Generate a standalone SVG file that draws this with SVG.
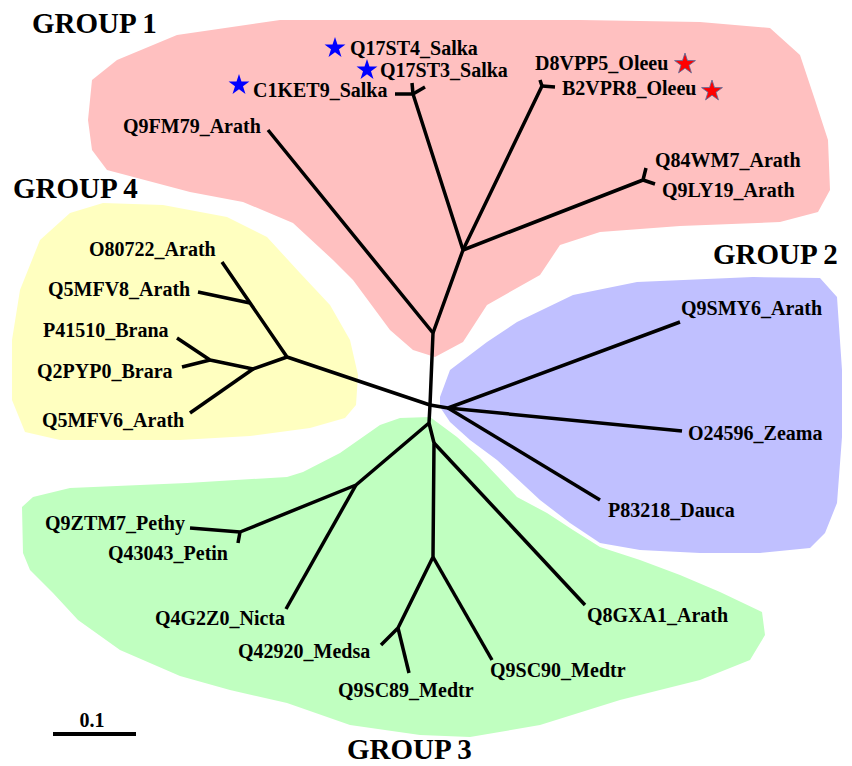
<svg xmlns="http://www.w3.org/2000/svg" width="852" height="766" viewBox="0 0 852 766">
<style>
.t{font-family:"Liberation Serif","Times New Roman",serif;font-weight:bold;font-size:20px;fill:#000}
.h{font-family:"Liberation Serif","Times New Roman",serif;font-weight:bold;font-size:29px;fill:#000}
.e{stroke:#000;stroke-width:3.5;fill:none;stroke-linecap:butt;stroke-linejoin:round}
.bs{fill:#0000FF}
.rs{fill:#FF0000;stroke:#5070A0;stroke-width:0.8}
</style>
<defs>
<path id="star" d="M0,-11 L2.47,-3.4 L10.46,-3.4 L4,1.3 L6.47,8.9 L0,4.2 L-6.47,8.9 L-4,1.3 L-10.46,-3.4 L-2.47,-3.4 Z"/>
</defs>
<rect width="852" height="766" fill="#fff"/>
<g id="regions" stroke-linejoin="round">
<polygon id="group1-area" fill="#FFC0C0" points="88,120 92,80 117,60 177,35 280,20 580,20 700,22 770,28 800,55 815,100 828,140 830,190 818,212 780,222 680,226 600,232 560,245 540,275 487,305 463,342 435,357 413,350 390,330 353,280 333,260 293,223 243,202 190,192 107,170 92,150"/>
<polygon id="group2-area" fill="#C0C0FF" points="440,397 450,370 487,342 517,322 573,295 637,282 753,277 820,278 837,297 842,370 842,437 837,503 825,533 810,548 760,553 700,553 640,550 600,543 570,523 540,500 497,460 470,440 450,422 440,407"/>
<polygon id="group3-area" fill="#C0FFC0" points="380,425 340,453 303,472 287,477 187,483 70,488 33,497 22,507 23,553 30,570 53,593 78,620 120,650 180,676 230,690 287,703 350,725 420,735 470,737 540,725 620,700 700,680 750,660 765,635 762,612 720,592 680,575 640,560 600,547 573,530 547,513 517,497 480,458 457,437 430,417 400,418"/>
<polygon id="group4-area" fill="#FFFFC0" points="40,240 70,213 103,203 163,205 227,217 267,237 300,273 330,305 350,340 358,375 356,405 345,418 310,428 250,436 180,440 60,440 25,432 12,400 12,340 20,290"/>
</g>
<g id="connectors" class="e">
<path d="M430,405 L433,333 L268,130"/>
<path d="M433,333 L463,250 L413,94 L395,94"/>
<path d="M413,94 L412,83"/>
<path d="M413,94 L425,87"/>
<path d="M463,250 L542,86 L540,80"/>
<path d="M542,86 L555,87"/>
<path d="M463,250 L643,180 L646,168"/>
<path d="M643,180 L655,184"/>
<path d="M430,405 L287,357 L222,262"/>
<path d="M250,303 L198,292"/>
<path d="M287,357 L253,369 L210,360 L177,338"/>
<path d="M210,360 L182,367"/>
<path d="M253,369 L190,413"/>
<path d="M430,405 L448,408 L680,322"/>
<path d="M448,408 L682,431"/>
<path d="M448,408 L600,500"/>
<path d="M430,405 L429,423 L356,485 L240,532 L190,528"/>
<path d="M240,532 L238,543"/>
<path d="M356,485 L286,609"/>
<path d="M429,423 L434,443 L433,557 L398,628 L381,645"/>
<path d="M398,628 L409,673"/>
<path d="M433,557 L492,660"/>
<path d="M434,443 L585,605"/>
</g>
<g id="headings">
<text class="h" x="32" y="33">GROUP 1</text>
<text class="h" x="713" y="264">GROUP 2</text>
<text class="h" x="347" y="759">GROUP 3</text>
<text class="h" x="13" y="198">GROUP 4</text>
</g>
<g id="Q17ST4_Salka"><use href="#star" class="bs" x="335" y="48"/><text class="t" x="350" y="55">Q17ST4_Salka</text></g>
<g id="Q17ST3_Salka"><use href="#star" class="bs" x="367" y="70"/><text class="t" x="380" y="77">Q17ST3_Salka</text></g>
<g id="C1KET9_Salka"><use href="#star" class="bs" x="239" y="85"/><text class="t" x="253" y="97">C1KET9_Salka</text></g>
<g id="D8VPP5_Oleeu"><text class="t" x="535" y="70">D8VPP5_Oleeu</text><use href="#star" class="rs" x="685" y="64"/></g>
<g id="B2VPR8_Oleeu"><text class="t" x="562" y="95">B2VPR8_Oleeu</text><use href="#star" class="rs" x="712" y="91"/></g>
<g id="Q9FM79_Arath"><text class="t" x="123" y="133">Q9FM79_Arath</text></g>
<g id="Q84WM7_Arath"><text class="t" x="655" y="167">Q84WM7_Arath</text></g>
<g id="Q9LY19_Arath"><text class="t" x="662" y="197">Q9LY19_Arath</text></g>
<g id="Q9SMY6_Arath"><text class="t" x="681" y="315">Q9SMY6_Arath</text></g>
<g id="O24596_Zeama"><text class="t" x="688" y="440">O24596_Zeama</text></g>
<g id="P83218_Dauca"><text class="t" x="608" y="517">P83218_Dauca</text></g>
<g id="O80722_Arath"><text class="t" x="89" y="256">O80722_Arath</text></g>
<g id="Q5MFV8_Arath"><text class="t" x="48" y="296">Q5MFV8_Arath</text></g>
<g id="P41510_Brana"><text class="t" x="43" y="337">P41510_Brana</text></g>
<g id="Q2PYP0_Brara"><text class="t" x="37" y="378">Q2PYP0_Brara</text></g>
<g id="Q5MFV6_Arath"><text class="t" x="42" y="427">Q5MFV6_Arath</text></g>
<g id="Q9ZTM7_Pethy"><text class="t" x="45" y="530">Q9ZTM7_Pethy</text></g>
<g id="Q43043_Petin"><text class="t" x="108" y="560">Q43043_Petin</text></g>
<g id="Q4G2Z0_Nicta"><text class="t" x="285" y="625" text-anchor="end">Q4G2Z0_Nicta</text></g>
<g id="Q42920_Medsa"><text class="t" x="238" y="658">Q42920_Medsa</text></g>
<g id="Q9SC89_Medtr"><text class="t" x="338" y="697">Q9SC89_Medtr</text></g>
<g id="Q9SC90_Medtr"><text class="t" x="490" y="677">Q9SC90_Medtr</text></g>
<g id="Q8GXA1_Arath"><text class="t" x="587" y="622">Q8GXA1_Arath</text></g>
<g id="scale">
<line x1="53" y1="734" x2="136" y2="734" stroke="#000" stroke-width="4"/>
<text class="t" x="92" y="727" text-anchor="middle">0.1</text>
</g>
</svg>
